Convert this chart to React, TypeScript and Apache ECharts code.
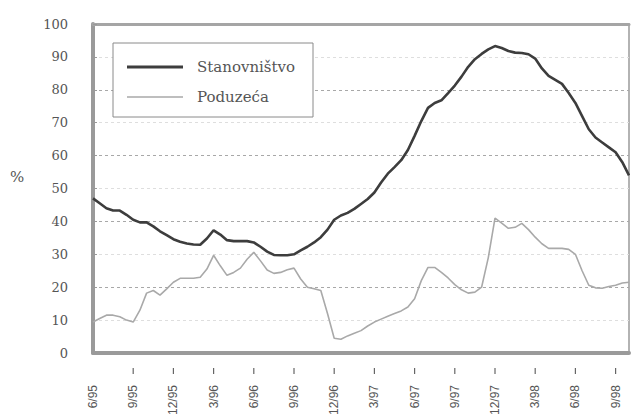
import React, { useEffect, useRef } from "react";
import * as echarts from "echarts";

// Half-month steps starting at 6/95
const stanovnistvo = [
  47, 45.5, 44, 43.3, 43.3, 42, 40.5, 39.7, 39.7, 38.5,
  37, 35.8, 34.6, 33.8, 33.3, 33, 32.9, 34.8, 37.3, 36,
  34.3, 34, 34, 34, 33.6, 32.3, 30.8, 29.8, 29.7, 29.7,
  30, 31.2, 32.3, 33.6, 35.2, 37.5, 40.5, 41.8, 42.6, 43.8,
  45.3, 46.8, 48.8, 51.8, 54.5, 56.5, 58.6, 61.7, 66, 70.5,
  74.5, 76, 76.8, 79, 81.3, 84, 87, 89.3, 90.9, 92.3,
  93.3, 92.7, 91.8, 91.3, 91.2, 90.8, 89.5, 86.5, 84.2, 83,
  81.8, 79, 76, 72, 68, 65.5, 64, 62.5, 61, 58,
  54,
];

const poduzeca = [
  9.4, 10.5, 11.5, 11.5, 11, 10, 9.4, 13, 18.2, 19,
  17.6, 19.5, 21.5, 22.7, 22.7, 22.7, 23, 25.5, 29.7, 26.5,
  23.6, 24.5, 25.8, 28.5, 30.6, 28, 25.2, 24.2, 24.5, 25.3,
  25.8, 22.5, 20, 19.5, 19, 12, 4.5, 4.2, 5.2, 6,
  6.8, 8.2, 9.4, 10.3, 11.2, 12, 12.8, 14, 16.5, 22,
  26, 26, 24.5, 22.8, 20.8, 19.2, 18.2, 18.5, 20, 29,
  41, 39.5, 37.9, 38.2, 39.4, 37.5, 35.2, 33.2, 31.8, 31.8,
  31.8, 31.5, 30, 25, 20.6, 19.8, 19.7, 20.2, 20.6, 21.3,
  21.5,
];

const tickLabels = [
  "6/95", "9/95", "12/95", "3/96", "6/96", "9/96", "12/96",
  "3/97", "6/97", "9/97", "12/97", "3/98", "6/98", "9/98",
];

const seriesNames = ["Stanovništvo", "Poduzeća"];
const seriesColors = ["#3d3d3d", "#a9a9a9"];
const seriesWidths = [2.6, 1.6];

const SERIF = "DejaVu Serif";

export default function App() {
  const ref = useRef<HTMLDivElement>(null);
  useEffect(() => {
    if (!ref.current) return;
    const chart = echarts.init(ref.current, null, { renderer: "svg" });
    const months = stanovnistvo.map((_, i) => i / 2);
    const labelValues = tickLabels.map((_, i) => i * 3);
    chart.setOption({
      animation: false,
      backgroundColor: "#ffffff",
      grid: {
        left: 93,
        right: 2,
        top: 24,
        bottom: 64,
        show: true,
        borderColor: "#9a9a9a",
        borderWidth: 1.5,
        outerBoundsMode: "none",
        containLabel: false,
      },
      xAxis: [
        {
          type: "value",
          min: 0,
          max: 40,
          interval: 3,
          axisLine: { show: true, lineStyle: { color: "#9a9a9a", width: 4 } },
          axisTick: { show: false },
          splitLine: { show: false },
          axisLabel: {
            customValues: labelValues,
            rotate: 90,
            margin: 32,
            fontFamily: "Liberation Sans",
            fontSize: 12,
            color: "#555",
            formatter: (v: number) => tickLabels[Math.round(v / 3)] ?? "",
          },
        },
        {
          type: "value",
          position: "top",
          min: 0,
          max: 40,
          axisLine: { show: true, lineStyle: { color: "#a5a5a5", width: 3 } },
          axisTick: { show: false },
          axisLabel: { show: false },
          splitLine: { show: false },
        },
      ],
      yAxis: {
        type: "value",
        min: 0,
        max: 100,
        interval: 10,
        axisLine: { show: true, lineStyle: { color: "#9a9a9a", width: 4 } },
        axisTick: { show: true, inside: true, length: 4, lineStyle: { color: "#999" } },
        axisLabel: {
          margin: 25,
          fontFamily: SERIF,
          fontSize: 13,
          color: "#555",
        },
        splitLine: {
          show: true,
          lineStyle: {
            type: [3, 3],
            color: ["#a8a8a8", "#dedede"],
            width: 1,
          },
        },
      },
      series: seriesNames.map((name, s) => ({
        name,
        type: "line",
        showSymbol: false,
        symbol: "none",
        data: months.map((m, i) => [m, (s === 0 ? stanovnistvo : poduzeca)[i]]),
        lineStyle: { color: seriesColors[s], width: seriesWidths[s] },
        itemStyle: { color: seriesColors[s] },
        z: 3 - s,
      })),
    });

    // Small separated tick marks under the axis, placed through the axis scale
    const tickMarks: any[] = [];
    labelValues.slice(1).forEach((v) => {
      const p = chart.convertToPixel({ gridIndex: 0 }, [v, 0]) as number[];
      if (!p || !isFinite(p[0]) || !isFinite(p[1])) return;
      tickMarks.push({
        type: "line",
        shape: { x1: p[0], y1: p[1] + 15, x2: p[0], y2: p[1] + 21 },
        style: { stroke: "#666", lineWidth: 1.2 },
        z: 50,
      });
    });
    const legendItems = seriesNames.flatMap((name, i) => [
      {
        type: "line",
        shape: { x1: 127, y1: 67 + i * 30, x2: 183, y2: 67 + i * 30 },
        style: { stroke: seriesColors[i], lineWidth: i === 0 ? 3 : 1.5 },
        z: 101,
      },
      {
        type: "text",
        x: 197,
        y: 67 + i * 30,
        style: {
          text: name,
          fontFamily: SERIF,
          fontSize: 15,
          fill: "#555",
          verticalAlign: "middle",
        },
        z: 101,
      },
    ]);
    chart.setOption({
      graphic: [
        {
          type: "rect",
          shape: { x: 113, y: 43, width: 200, height: 74 },
          style: { fill: "#ffffff", stroke: "#8a8a8a", lineWidth: 1 },
          z: 100,
        },
        ...legendItems,
        {
          type: "text",
          x: 10,
          y: 177,
          style: {
            text: "%",
            fontFamily: SERIF,
            fontSize: 15,
            fill: "#555",
            verticalAlign: "middle",
          },
        },
        ...tickMarks,
      ],
    });
    return () => chart.dispose();
  }, []);
  return (
    <div
      ref={ref}
      style={{ position: "fixed", left: 0, top: 0, width: 631, height: 417, background: "#fff" }}
    />
  );
}
